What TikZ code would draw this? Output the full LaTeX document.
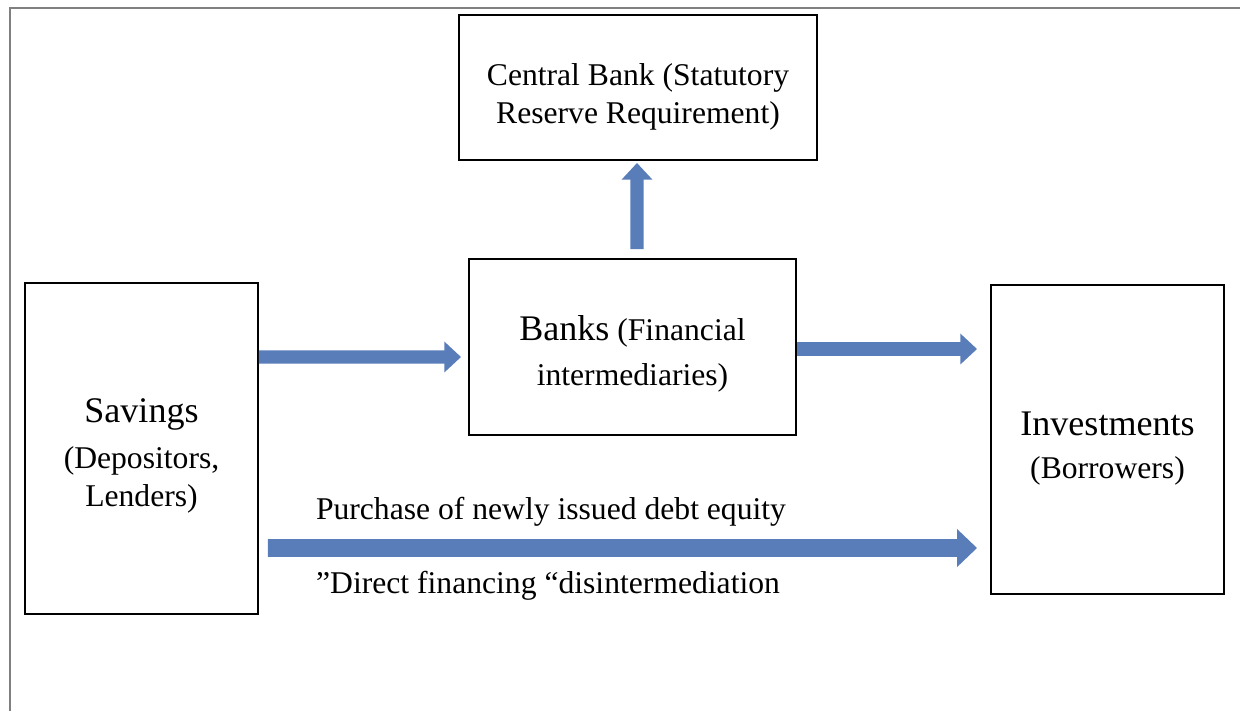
\documentclass[tikz,border=0pt]{standalone}
\usepackage{fontspec}
\setmainfont{Liberation Serif}
\usetikzlibrary{arrows.meta,positioning,calc}
\usepackage{xcolor}
\definecolor{flowblue}{RGB}{88,125,185}
\definecolor{framegray}{RGB}{128,128,128}
\newcommand{\bigtxt}{\fontsize{20.5}{24}\selectfont}
\newcommand{\smalltxt}{\fontsize{18}{21.5}\selectfont}

\begin{document}
\begin{tikzpicture}[
    box/.style={draw=black, line width=1.1pt, inner sep=0pt, align=center, font=\smalltxt},
    flow/.style={draw=flowblue, line width=7.6pt, -{Triangle[width=17pt,length=9.5pt]}},
    bigflow/.style={draw=flowblue, line width=10pt, -{Triangle[width=21pt,length=11.4pt]}}
]
    \useasboundingbox (0,0) rectangle (24.8,-14.22);
    % Outer frame
    \draw[framegray, line width=1.3pt] (0.2,-14.22) -- (0.2,-0.16) -- (24.8,-0.16);

    % Boxes
    \node[box, minimum width=7.16cm, minimum height=2.9cm] (central) at (12.76,-1.75)
        {\rule{0pt}{23pt}Central Bank (Statutory\\ Reserve Requirement)};
    \node[box, minimum width=6.54cm, minimum height=3.52cm] (banks) at (12.65,-6.94)
        {\rule{0pt}{22pt}{\bigtxt Banks} (Financial\\[4pt] intermediaries)};
    \node[box, minimum width=4.66cm, minimum height=6.62cm] (savings) at (2.83,-8.97)
        {\rule{0pt}{22pt}{\bigtxt Savings}\\[5pt] (Depositors,\\ Lenders)};
    \node[box, minimum width=4.66cm, minimum height=6.18cm] (invest) at (22.15,-8.79)
        {\rule{0pt}{24pt}{\bigtxt Investments}\\[3pt] (Borrowers)};

    % Labels of the direct route
    \node[font=\smalltxt] (purchase) at (11.02,-10.24) {Purchase of newly issued debt equity};
    \node[font=\smalltxt] (direct) at (10.96,-11.72) {”Direct financing “disintermediation};

    % Arrows
    \draw[flow] ([yshift=1.83cm]savings.east) -- ([xshift=-0.14cm,yshift=-0.2cm]banks.west);
    \draw[flow] ([yshift=-0.04cm]banks.east) -- ([xshift=-0.26cm,yshift=1.81cm]invest.west);
    \draw[flow] ([xshift=0.09cm,yshift=0.18cm]banks.north) -- ([xshift=-0.02cm,yshift=-0.04cm]central.south);
    \draw[bigflow] ([xshift=0.18cm,yshift=-1.99cm]savings.east) -- ([xshift=-0.26cm,yshift=-2.17cm]invest.west);
\end{tikzpicture}
\end{document}
